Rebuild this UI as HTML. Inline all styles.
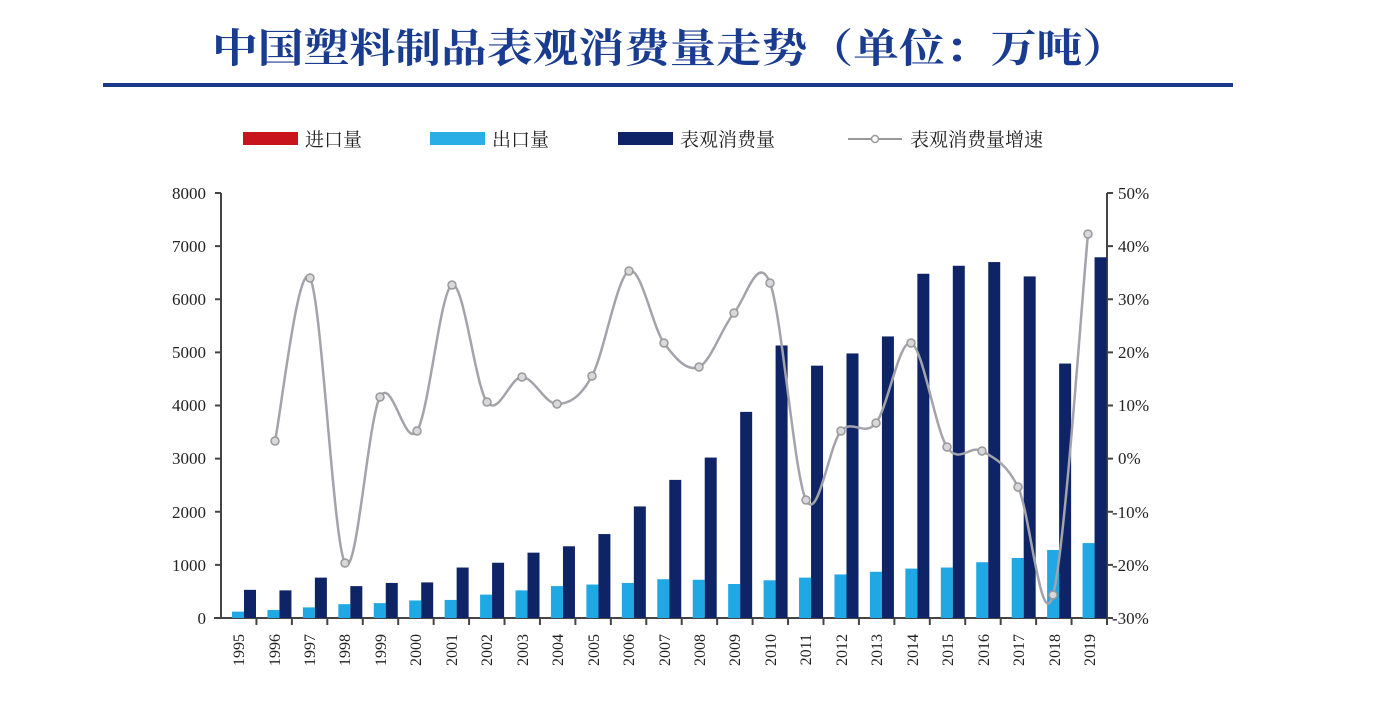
<!DOCTYPE html>
<html><head><meta charset="utf-8"><style>
html,body{margin:0;padding:0;background:#fff;}
svg{display:block;}
text{font-family:"Liberation Serif","Noto Serif CJK SC",serif;}
</style></head><body>
<svg id="s" width="1400" height="702" viewBox="0 0 1400 702" xmlns="http://www.w3.org/2000/svg">
<rect width="1400" height="702" fill="#fff"/>
<text x="212" y="62" font-size="40" font-weight="bold" fill="#1a3c90" textLength="916" lengthAdjust="spacingAndGlyphs" font-family="Noto Serif CJK SC, serif">中国塑料制品表观消费量走势（单位：万吨）</text>
<rect x="103" y="83" width="1130" height="4" fill="#1b3a8c"/>
<!-- legend -->
<rect x="243" y="132" width="55" height="13" fill="#c8141c"/>
<text x="305" y="146" font-size="19" fill="#222" font-family="Noto Serif CJK SC, serif">进口量</text>
<rect x="430" y="132" width="55" height="13" fill="#29aee6"/>
<text x="492" y="146" font-size="19" fill="#222" font-family="Noto Serif CJK SC, serif">出口量</text>
<rect x="618" y="132" width="55" height="13" fill="#0e2466"/>
<text x="680" y="146" font-size="19" fill="#222" font-family="Noto Serif CJK SC, serif">表观消费量</text>
<line x1="848" y1="139" x2="902" y2="139" stroke="#999" stroke-width="2"/>
<circle cx="875" cy="139" r="3.5" fill="#fff" stroke="#999" stroke-width="1.5"/>
<text x="910" y="146" font-size="19" fill="#222" font-family="Noto Serif CJK SC, serif">表观消费量增速</text>
<!-- axes -->
<g stroke="#444" stroke-width="2">
<line x1="221" y1="193" x2="221" y2="619"/>
<line x1="1107" y1="193" x2="1107" y2="619"/>
<line x1="214" y1="618" x2="1107" y2="618"/>
</g>
<g stroke="#444" stroke-width="2" id="ticks"></g>
<g font-size="17" fill="#222" text-anchor="end">
<text x="206" y="199">8000</text><text x="206" y="252">7000</text><text x="206" y="305">6000</text><text x="206" y="358">5000</text><text x="206" y="411">4000</text><text x="206" y="464">3000</text><text x="206" y="518">2000</text><text x="206" y="571">1000</text><text x="206" y="624">0</text>
</g>
<g font-size="17" fill="#222">
<text x="1118" y="199">50%</text><text x="1118" y="252">40%</text><text x="1118" y="305">30%</text><text x="1118" y="358">20%</text><text x="1118" y="411">10%</text><text x="1118" y="464">0%</text><text x="1112" y="518">-10%</text><text x="1112" y="571">-20%</text><text x="1112" y="624">-30%</text>
</g>
<g id="bars"></g>
<path id="ln" fill="none" stroke="#a3a3ab" stroke-width="2.5"/>
<g id="mk"></g>
<g font-size="16" fill="#222" text-anchor="end">
<text transform="translate(244,634) rotate(-90)">1995</text>
<text transform="translate(280,634) rotate(-90)">1996</text>
<text transform="translate(315,634) rotate(-90)">1997</text>
<text transform="translate(350,634) rotate(-90)">1998</text>
<text transform="translate(386,634) rotate(-90)">1999</text>
<text transform="translate(421,634) rotate(-90)">2000</text>
<text transform="translate(457,634) rotate(-90)">2001</text>
<text transform="translate(492,634) rotate(-90)">2002</text>
<text transform="translate(528,634) rotate(-90)">2003</text>
<text transform="translate(563,634) rotate(-90)">2004</text>
<text transform="translate(599,634) rotate(-90)">2005</text>
<text transform="translate(634,634) rotate(-90)">2006</text>
<text transform="translate(670,634) rotate(-90)">2007</text>
<text transform="translate(705,634) rotate(-90)">2008</text>
<text transform="translate(740,634) rotate(-90)">2009</text>
<text transform="translate(776,634) rotate(-90)">2010</text>
<text transform="translate(811,634) rotate(-90)">2011</text>
<text transform="translate(847,634) rotate(-90)">2012</text>
<text transform="translate(882,634) rotate(-90)">2013</text>
<text transform="translate(918,634) rotate(-90)">2014</text>
<text transform="translate(953,634) rotate(-90)">2015</text>
<text transform="translate(989,634) rotate(-90)">2016</text>
<text transform="translate(1024,634) rotate(-90)">2017</text>
<text transform="translate(1060,634) rotate(-90)">2018</text>
<text transform="translate(1095,634) rotate(-90)">2019</text>
</g>
</svg>
<script>
var NS="http://www.w3.org/2000/svg";
function el(t,a,p){var e=document.createElementNS(NS,t);for(var k in a)e.setAttribute(k,a[k]);p.appendChild(e);return e;}
var dark=[530,520,760,600,660,670,950,1040,1230,1350,1580,2100,2600,3020,3880,5130,4750,4980,5300,6480,6630,6700,6430,4790,6790];
var light=[120,150,200,260,280,330,340,440,520,600,630,660,730,720,640,710,760,820,870,930,950,1050,1130,1280,1410];
var B=document.getElementById('bars'),T=document.getElementById('ticks');
var k=0.053125,w=35.44;
for(var i=0;i<25;i++){var b=221+w*i;
el('rect',{x:b+11,y:618-light[i]*k,width:12,height:light[i]*k,fill:'#1fa8e4'},B);
el('rect',{x:b+23,y:618-dark[i]*k,width:12,height:dark[i]*k,fill:'#0e2466'},B);
el('line',{x1:b+w,y1:618,x2:b+w,y2:625},T);}
for(var j=0;j<9;j++){var y=193+j*53.125;el('line',{x1:215,y1:y,x2:221,y2:y},T);el('line',{x1:1107,y1:y,x2:1113,y2:y},T);}
var P=[[275,441],[310,278],[345,563],[380,397],[417,431],[452,285],[487,402],[522,377],[557,404],[592,376],[629,271],[664,343],[699,367],[734,313],[770,283],[806,500],[841,431],[876,423],[911,343],[947,447],[982,451],[1018,487],[1053,595],[1088,234]];
var d="M"+P[0];
for(var i=0;i<P.length-1;i++){var p0=P[Math.max(i-1,0)],p1=P[i],p2=P[i+1],p3=P[Math.min(i+2,P.length-1)];
var c1=[p1[0]+(p2[0]-p0[0])/6,p1[1]+(p2[1]-p0[1])/6],c2=[p2[0]-(p3[0]-p1[0])/6,p2[1]-(p3[1]-p1[1])/6];
d+=" C"+c1+" "+c2+" "+p2;}
document.getElementById('ln').setAttribute('d',d);
var M=document.getElementById('mk');
P.forEach(function(p){el('circle',{cx:p[0],cy:p[1],r:4,fill:'#d8d8dc',stroke:'#999',"stroke-width":1.5},M);});
</script>
</body></html>
